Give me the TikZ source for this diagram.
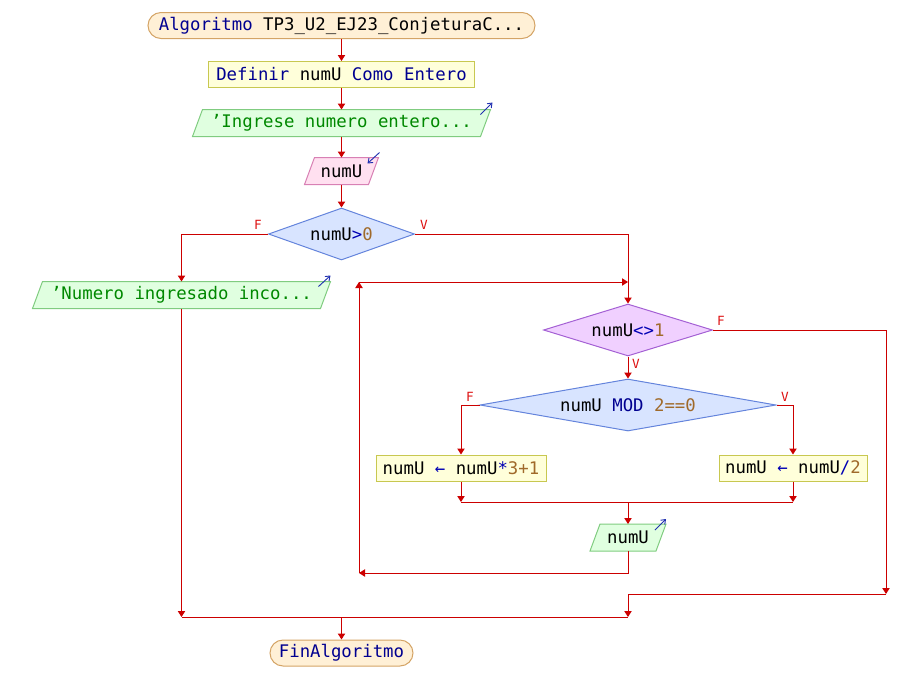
\documentclass[tikz,border=0pt]{standalone}
\usepackage{fontspec}
\setmainfont{DejaVu Sans Mono}
\usetikzlibrary{shapes.geometric,arrows.meta,backgrounds}
\definecolor{ln}{HTML}{CC0000}
\definecolor{labC}{HTML}{DD1111}
\definecolor{termF}{HTML}{FFF0D6}
\definecolor{termB}{HTML}{D4A466}
\definecolor{procF}{HTML}{FFFFDA}
\definecolor{procB}{HTML}{C8C850}
\definecolor{outF}{HTML}{E0FFE0}
\definecolor{outB}{HTML}{80CC80}
\definecolor{inF}{HTML}{FFE0F0}
\definecolor{inB}{HTML}{D880B4}
\definecolor{condF}{HTML}{D8E4FF}
\definecolor{condB}{HTML}{6484DC}
\definecolor{loopF}{HTML}{F0D0FF}
\definecolor{loopB}{HTML}{A460D4}
\definecolor{kwC}{HTML}{000090}
\definecolor{opC}{HTML}{0000B4}
\definecolor{numC}{HTML}{A06A2A}
\definecolor{strC}{HTML}{008800}
\definecolor{iconC}{HTML}{2030B0}
\newcommand\ioshape[3]{%
  \begin{scope}[on background layer]
    \draw[line width=0.75pt,draw=#3,fill=#2]
      ([xshift=-3.75pt]#1.south west) -- ([xshift=-3.75pt]#1.south east) --
      ([xshift=3.75pt]#1.north east) -- ([xshift=3.75pt]#1.north west) -- cycle;
  \end{scope}}
\begin{document}
\begin{tikzpicture}[x=0.75pt,y=-0.75pt,
  base/.style={inner sep=0pt, font=\fontsize{13}{15}\selectfont, line width=0.75pt},
  term/.style={base, rounded corners=9.75pt, draw=termB, fill=termF, minimum height=19.5pt},
  proc/.style={base, draw=procB, fill=procF, minimum height=19.5pt},
  io/.style={base, minimum height=19.5pt},
  cond/.style={base, diamond, draw=condB, fill=condF, minimum height=39pt},
  loopc/.style={cond, draw=loopB, fill=loopF},
  flow/.style={draw=ln, line width=0.75pt, -{Triangle[width=5.5pt,length=4.5pt]}},
  wire/.style={draw=ln, line width=0.75pt},
  lab/.style={font=\fontsize{9.5}{10}\selectfont, text=labC, inner sep=0pt},
  icon/.style={draw=iconC, line width=0.7pt, -{Straight Barb[length=3pt,width=4.5pt]}}]
\useasboundingbox (0,0) rectangle (901,683);

% nodes
\node[term, minimum width=290.25pt] (start) at (341.5,25.5)
  {\textcolor{kwC}{Algoritmo} TP3\_U2\_EJ23\_ConjeturaC...};
\node[proc, minimum width=199.5pt] (def) at (341.5,74.5)
  {\textcolor{kwC}{Definir} numU \textcolor{kwC}{Como Entero}};
\node[io, minimum width=215.25pt] (e1) at (341.5,123)
  {\textcolor{strC}{\char39 Ingrese numero entero...}};
\ioshape{e1}{outF}{outB}
\node[io, minimum width=47.25pt] (leer) at (341.5,171) {numU};
\ioshape{leer}{inF}{inB}
\node[cond, minimum width=109.5pt, aspect=2.8] (d1) at (341.5,234)
  {numU\textcolor{opC}{>}\textcolor{numC}{0}};
\node[io, minimum width=215.25pt] (e2) at (181.5,295)
  {\textcolor{strC}{\char39 Numero ingresado inco...}};
\ioshape{e2}{outF}{outB}
\node[loopc, minimum width=126.75pt, aspect=3.25] (d2) at (628,330)
  {numU\textcolor{opC}{<>}\textcolor{numC}{1}};
\node[cond, minimum width=222pt, aspect=5.7] (d3) at (628,405)
  {numU \textcolor{kwC}{MOD} \textcolor{numC}{2==0}};
\node[proc, minimum width=127.5pt] (a1) at (461,468)
  {numU \textcolor{opC}{←} numU\textcolor{opC}{*}\textcolor{numC}{3+1}};
\node[proc, minimum width=111pt] (a2) at (793,468)
  {numU \textcolor{opC}{←} numU\textcolor{opC}{/}\textcolor{numC}{2}};
\node[io, minimum width=48.75pt] (e3) at (628,537.5) {numU};
\ioshape{e3}{outF}{outB}
\node[term, minimum width=107.25pt] (fin) at (341.5,653)
  {\textcolor{kwC}{FinAlgoritmo}};

% icons
\draw[icon] ([shift={(-5,5)}]e1.north east) -- ([shift={(7,-7)}]e1.north east);
\draw[icon] ([shift={(6,-5)}]leer.north east) -- ([shift={(-6,6)}]leer.north east);
\draw[icon] ([shift={(-7,5)}]e2.north east) -- ([shift={(5,-6)}]e2.north east);
\draw[icon] ([shift={(-6,6)}]e3.north east) -- ([shift={(5,-5)}]e3.north east);

% branch labels
\node[lab] (lf1) at (258,225) {F};
\node[lab] (lv1) at (424,225) {V};
\node[lab] (lf2) at (721,321) {F};
\node[lab] (lv2) at (636,364) {V};
\node[lab] (lf3) at (470,397) {F};
\node[lab] (lv3) at (785,397) {V};

% junction coordinates
\coordinate (jn) at (341.5,617);
\coordinate (lt) at (359,282);
\coordinate (lb) at (359,573);
\coordinate (fr) at (886,594);
\coordinate (mg) at (628,502);

% connectors
\draw[flow] (start.south) -- (def.north);
\draw[flow] (def.south) -- (e1.north);
\draw[flow] (e1.south) -- (leer.north);
\draw[flow] (leer.south) -- (d1.north);
\draw[flow] (d1.west) -| (e2.north);
\draw[flow] (d1.east) -| (d2.north);
\draw[flow] (lt) -- (d2.north |- lt);
\draw[flow] (lb) -- (lt);
\draw[flow] (e3.south) |- (lb);
\draw[flow] (d2.south) -- (d3.north);
\draw[flow] (d3.west) -| (a1.north);
\draw[flow] (d3.east) -| (a2.north);
\draw[flow] (a1.south) -- (a1.south |- mg);
\draw[flow] (a2.south) -- (a2.south |- mg);
\draw[wire] (a1.south |- mg) -- (a2.south |- mg);
\draw[flow] (mg) -- (e3.north);
\draw[flow] (d2.east) -| (fr);
\draw[flow] (fr) -| (d2.south |- jn);
\draw[flow] (e2.south) -- (e2.south |- jn);
\draw[wire] (e2.south |- jn) -- (d2.south |- jn);
\draw[flow] (jn) -- (fin.north);
\end{tikzpicture}
\end{document}
